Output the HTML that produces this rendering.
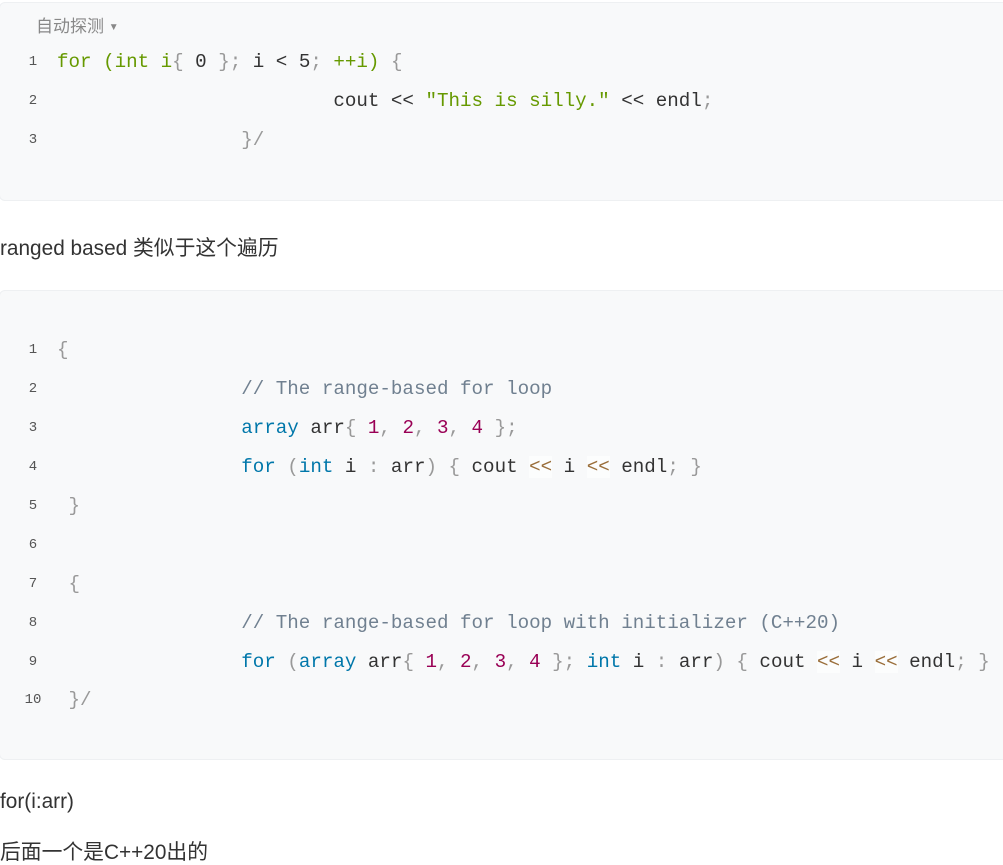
<!DOCTYPE html>
<html><head><meta charset="utf-8"><style>
*{margin:0;padding:0;box-sizing:border-box}
body{width:1003px;height:861px;background:#fff;position:relative;overflow:hidden;font-family:"Liberation Sans","Noto Sans CJK SC",sans-serif}
.blk{position:absolute;left:-1px;width:1020px;background:#f8f9fa;border:1px solid #eef0f2;border-radius:6px}
.ln{position:absolute;left:10px;width:46px;text-align:center;font-family:"Liberation Mono",monospace;font-size:14px;color:#555;line-height:20px}
.cd{position:absolute;left:57px;font-family:"Liberation Mono",monospace;font-size:19.2px;white-space:pre;color:#333;line-height:24px}
.g{color:#669900}.p{color:#999}.k{color:#0077aa}.n{color:#990055}.c{color:#708090}.o{color:#9a6e3a;background:rgba(255,255,255,.6)}
.t{position:absolute;left:0;font-size:20.8px;color:#333;white-space:nowrap}
</style></head><body>
<div class="blk" style="top:2px;height:199px"></div>
<div style="position:absolute;left:36px;top:12px;font-size:17px;color:#888;font-family:'Liberation Sans','Noto Sans CJK SC',sans-serif">自动探测 <span style="font-size:10px;vertical-align:2px">▼</span></div>
<div class="ln" style="top:52px">1</div><div class="cd" style="top:50px"><span class="g">for</span> <span class="g">(int i</span><span class="p">{</span> 0 <span class="p">};</span> i &lt; 5<span class="p">;</span> <span class="g">++i)</span> <span class="p">{</span></div>
<div class="ln" style="top:91px">2</div><div class="cd" style="top:89px">                        cout &lt;&lt; <span class="g">"This is silly."</span> &lt;&lt; endl<span class="p">;</span></div>
<div class="ln" style="top:130px">3</div><div class="cd" style="top:128px">                <span class="p">}/</span></div>

<div class="t" style="top:231px">ranged based 类似于这个遍历</div>

<div class="blk" style="top:290px;height:470px"></div>
<div class="ln" style="top:340px">1</div><div class="cd" style="top:338px"><span class="p">{</span></div>
<div class="ln" style="top:379px">2</div><div class="cd" style="top:377px">                <span class="c">// The range-based for loop</span></div>
<div class="ln" style="top:418px">3</div><div class="cd" style="top:416px">                <span class="k">array</span> arr<span class="p">{</span> <span class="n">1</span><span class="p">,</span> <span class="n">2</span><span class="p">,</span> <span class="n">3</span><span class="p">,</span> <span class="n">4</span> <span class="p">};</span></div>
<div class="ln" style="top:457px">4</div><div class="cd" style="top:455px">                <span class="k">for</span> <span class="p">(</span><span class="k">int</span> i <span class="p">:</span> arr<span class="p">)</span> <span class="p">{</span> cout <span class="o">&lt;&lt;</span> i <span class="o">&lt;&lt;</span> endl<span class="p">;</span> <span class="p">}</span></div>
<div class="ln" style="top:496px">5</div><div class="cd" style="top:494px"> <span class="p">}</span></div>
<div class="ln" style="top:535px">6</div>
<div class="ln" style="top:574px">7</div><div class="cd" style="top:572px"> <span class="p">{</span></div>
<div class="ln" style="top:613px">8</div><div class="cd" style="top:611px">                <span class="c">// The range-based for loop with initializer (C++20)</span></div>
<div class="ln" style="top:652px">9</div><div class="cd" style="top:650px">                <span class="k">for</span> <span class="p">(</span><span class="k">array</span> arr<span class="p">{</span> <span class="n">1</span><span class="p">,</span> <span class="n">2</span><span class="p">,</span> <span class="n">3</span><span class="p">,</span> <span class="n">4</span> <span class="p">};</span> <span class="k">int</span> i <span class="p">:</span> arr<span class="p">)</span> <span class="p">{</span> cout <span class="o">&lt;&lt;</span> i <span class="o">&lt;&lt;</span> endl<span class="p">;</span> <span class="p">}</span></div>
<div class="ln" style="top:690px">10</div><div class="cd" style="top:688px"> <span class="p">}/</span></div>

<div class="t" style="top:790px">for(i:arr)</div>
<div class="t" style="top:835px">后面一个是C++20出的</div>
</body></html>
